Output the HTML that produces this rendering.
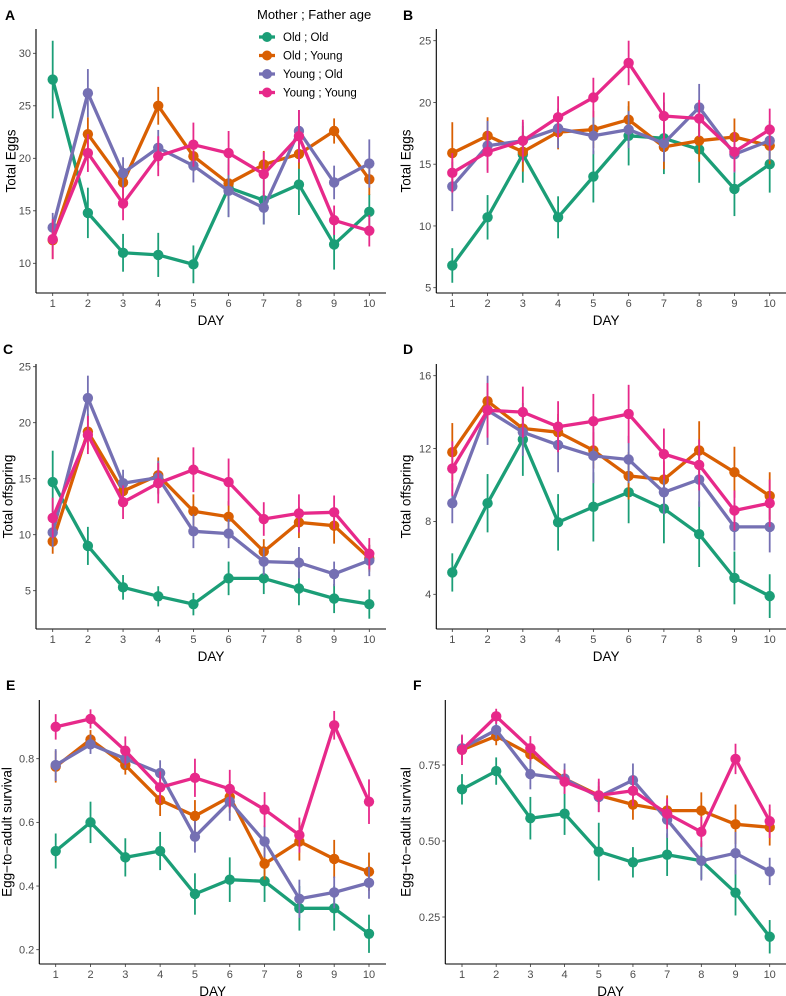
<!DOCTYPE html>
<html><head><meta charset="utf-8"><style>
html,body{margin:0;padding:0;background:#fff;}
svg{display:block;font-family:"Liberation Sans",Arial,sans-serif;}
</style></head><body>
<svg id="fig" width="786" height="996" viewBox="0 0 786 996" xmlns="http://www.w3.org/2000/svg"></svg>
<script>
const days = [1,2,3,4,5,6,7,8,9,10];
const groups = ["Old ; Old","Old ; Young","Young ; Old","Young ; Young"];
const colors = ["#1b9e77","#d95f02","#7570b3","#e7298a"];

const aMean = [[27.5,14.8,11.0,10.8,9.9,17.2,16.0,17.5,11.8,14.9],[12.2,22.3,17.7,25.0,20.2,17.6,19.4,20.4,22.6,18.0],[13.4,26.2,18.6,21.0,19.3,16.9,15.3,22.6,17.7,19.5],[12.3,20.5,15.7,20.2,21.3,20.5,18.5,22.1,14.1,13.1]];
const aErr = [[3.7,2.4,1.8,2.1,1.8,2.8,2.3,2.9,2.4,1.7],[1.8,1.6,1.5,1.8,1.5,1.5,1.3,1.4,1.2,1.5],[1.4,2.3,1.5,1.7,1.6,2.5,1.6,2.0,1.6,2.3],[1.9,1.8,1.6,1.9,2.1,2.1,2.1,2.5,1.4,1.5]];
const bMean = [[6.8,10.7,15.8,10.7,14.0,17.3,17.1,16.2,13.0,15.0],[15.9,17.3,16.0,17.6,17.8,18.6,16.4,16.9,17.2,16.5],[13.2,16.5,16.9,17.9,17.3,17.8,16.7,19.6,15.8,16.9],[14.3,16.0,16.9,18.8,20.4,23.2,18.9,18.7,16.0,17.8]];
const bErr = [[1.4,1.8,2.3,1.7,2.1,2.4,2.9,2.7,2.2,2.3],[2.5,1.5,1.6,1.4,1.5,1.5,1.8,1.7,1.5,1.5],[2.0,2.0,1.5,1.6,1.5,1.5,1.5,1.9,1.5,1.6],[1.6,1.7,1.7,1.7,1.6,1.8,1.9,1.5,1.6,1.7]];
const cMean = [[14.7,9.0,5.3,4.5,3.8,6.1,6.1,5.2,4.3,3.8],[9.4,19.2,13.9,15.3,12.1,11.6,8.5,11.1,10.8,7.9],[10.2,22.2,14.6,15.1,10.3,10.1,7.6,7.5,6.5,7.7],[11.5,18.9,12.9,14.6,15.8,14.7,11.4,11.9,12.0,8.3]];
const cErr = [[2.8,1.7,1.1,0.9,1.0,1.5,1.4,1.5,1.3,1.3],[1.1,1.6,1.3,1.6,1.5,1.4,1.1,1.4,1.6,1.2],[1.3,2.0,1.2,1.5,1.5,1.3,1.2,1.4,1.1,1.4],[1.8,1.7,1.5,1.8,2.0,2.1,1.5,1.7,1.5,1.4]];
const dMean = [[5.2,9.0,12.5,7.95,8.8,9.6,8.7,7.3,4.9,3.9],[11.8,14.6,13.1,12.9,11.9,10.5,10.3,11.9,10.7,9.4],[9.0,14.1,12.9,12.2,11.6,11.4,9.6,10.3,7.7,7.7],[10.9,14.1,14.0,13.2,13.5,13.9,11.7,11.1,8.6,9.0]];
const dErr = [[1.05,1.6,2.0,1.55,1.9,1.7,1.9,1.8,1.45,1.2],[1.6,1.0,1.0,1.0,1.0,1.3,1.0,1.6,1.4,1.3],[1.1,1.9,1.3,1.5,1.5,1.3,1.2,1.5,1.3,1.4],[1.5,1.5,1.4,1.4,1.5,1.6,1.4,1.4,1.1,1.3]];
const eMean = [[0.51,0.60,0.49,0.51,0.375,0.42,0.415,0.33,0.33,0.25],[0.775,0.86,0.78,0.67,0.62,0.68,0.47,0.54,0.485,0.445],[0.78,0.845,0.80,0.755,0.555,0.665,0.54,0.36,0.38,0.41],[0.90,0.925,0.825,0.71,0.74,0.705,0.64,0.56,0.905,0.665]];
const eErr = [[0.055,0.065,0.06,0.06,0.065,0.07,0.065,0.07,0.07,0.06],[0.05,0.03,0.03,0.05,0.05,0.05,0.05,0.06,0.06,0.06],[0.05,0.03,0.03,0.04,0.05,0.06,0.05,0.06,0.05,0.05],[0.04,0.03,0.045,0.05,0.06,0.06,0.055,0.055,0.045,0.07]];
const fMean = [[0.67,0.73,0.575,0.59,0.465,0.43,0.455,0.435,0.33,0.185],[0.80,0.845,0.785,0.705,0.65,0.62,0.60,0.60,0.555,0.545],[0.805,0.865,0.72,0.705,0.645,0.70,0.57,0.435,0.46,0.40],[0.80,0.91,0.805,0.695,0.65,0.665,0.59,0.53,0.77,0.565]];
const fErr = [[0.05,0.045,0.07,0.07,0.095,0.05,0.07,0.06,0.075,0.055],[0.03,0.03,0.03,0.03,0.03,0.05,0.05,0.06,0.065,0.06],[0.04,0.03,0.05,0.05,0.05,0.055,0.06,0.065,0.07,0.045],[0.05,0.025,0.04,0.04,0.055,0.05,0.05,0.05,0.05,0.055]];

const aTicks = ["10","15","20","25","30"];
const bTicks = ["5","10","15","20","25"];
const cTicks = ["5","10","15","20","25"];
const dTicks = ["4","8","12","16"];
const eTicks = ["0.2","0.4","0.6","0.8"];
const fTicks = ["0.25","0.50","0.75"];

const NS = "http://www.w3.org/2000/svg";
const svg = document.getElementById("fig");
function mk(tag, attrs, parent){
  const el = document.createElementNS(NS, tag);
  for (const k in attrs) el.setAttribute(k, attrs[k]);
  (parent||svg).appendChild(el);
  return el;
}

const panels = [
  {id:"a",letter:"A",lx:5,ly:20,ax:36,top:29,bot:293,right:386,x1:52.7,x10:369.3,v0:10,p0:263.3,v1:30,p1:53.3,mean:aMean,err:aErr,ticks:aTicks,title:"Total Eggs",tx:11},
  {id:"b",letter:"B",lx:403,ly:20,ax:436.3,top:29,bot:293,right:786,x1:452.3,x10:769.7,v0:5,p0:287.7,v1:25,p1:40.7,mean:bMean,err:bErr,ticks:bTicks,title:"Total Eggs",tx:406},
  {id:"c",letter:"C",lx:3,ly:354,ax:36,top:364,bot:629,right:386,x1:52.7,x10:369.3,v0:5,p0:590.7,v1:25,p1:366.7,mean:cMean,err:cErr,ticks:cTicks,title:"Total offspring",tx:8},
  {id:"d",letter:"D",lx:403,ly:354,ax:436.3,top:364,bot:629,right:786,x1:452.3,x10:769.7,v0:4,p0:594.3,v1:16,p1:375.7,mean:dMean,err:dErr,ticks:dTicks,title:"Total offspring",tx:406},
  {id:"e",letter:"E",lx:6,ly:690,ax:39.3,top:700,bot:964,right:386,x1:55.7,x10:369,v0:0.2,p0:949.7,v1:0.8,p1:758.7,mean:eMean,err:eErr,ticks:eTicks,title:"Egg\u2212to\u2212adult survival",tx:7},
  {id:"f",letter:"F",lx:413,ly:690,ax:445.3,top:700,bot:964,right:786,x1:462,x10:769.7,v0:0.25,p0:917,v1:0.75,p1:765,mean:fMean,err:fErr,ticks:fTicks,title:"Egg\u2212to\u2212adult survival",tx:406}
];

panels.forEach(P => {
  const g = mk("g", {});
  
  
  const xs = d => P.x1 + (d-1)*(P.x10-P.x1)/9;
  const ys = v => P.p0 + (v-P.v0)*(P.p1-P.p0)/(P.v1-P.v0);
  const lt = mk("text", {x:P.lx, y:P.ly, "font-size":14, "font-weight":"bold", fill:"#000"}, g);
  lt.textContent = P.letter;
  
  
  const yaxis = mk("line", {x1:P.ax, y1:P.top, x2:P.ax, y2:P.bot, stroke:"#000", "stroke-width":1.1}, g);
  
  
  const xaxis = mk("line", {x1:P.ax, y1:P.bot, x2:P.right, y2:P.bot, stroke:"#000", "stroke-width":1.1}, g);
  
  
  P.ticks.forEach(t => {
    const y = ys(parseFloat(t));
    mk("line", {x1:P.ax-3, y1:y, x2:P.ax, y2:y, stroke:"#333", "stroke-width":0.8}, g);
    const tx = mk("text", {x:P.ax-5, y:y+3.8, "font-size":11, fill:"#4d4d4d", "text-anchor":"end"}, g);
    tx.textContent = t;
    
    
  });
  days.forEach(d => {
    const x = xs(d);
    mk("line", {x1:x, y1:P.bot, x2:x, y2:P.bot+3, stroke:"#333", "stroke-width":0.8}, g);
    const tx = mk("text", {x:x, y:P.bot+14, "font-size":11, fill:"#4d4d4d", "text-anchor":"middle"}, g);
    tx.textContent = d;
    
    
  });
  const xt = mk("text", {x:(P.ax+P.right)/2 + (P.right>700?-5:0), y:P.bot+32, "font-size":13.5, fill:"#000", "text-anchor":"middle"}, g);
  xt.textContent = "DAY";
  
  
  const cy = (P.top+P.bot)/2;
  const yt = mk("text", {x:P.tx, y:cy, "font-size":13.5, fill:"#000", "text-anchor":"middle", transform:`rotate(-90 ${P.tx} ${cy})`, dy:"0.35em"}, g);
  yt.textContent = P.title;
  
  
  P.mean.forEach((ser, si) => {
    const sg = mk("g", {}, g);
    
    
    const pts = ser.map((v,i) => xs(days[i]).toFixed(1)+","+ys(v).toFixed(1)).join(" ");
    const ln = mk("polyline", {points:pts, fill:"none", stroke:colors[si], "stroke-width":3.3, "stroke-linejoin":"round"}, sg);
    
    
    ser.forEach((v,i) => {
      const e = P.err[si][i];
      const eb = mk("line", {x1:xs(days[i]), y1:ys(v-e), x2:xs(days[i]), y2:ys(v+e), stroke:colors[si], "stroke-width":1.8}, sg);
      
      
      const c = mk("circle", {cx:xs(days[i]), cy:ys(v), r:5.2, fill:colors[si]}, sg);
      
      
    });
  });
});

const lg = mk("g", {});


const lt = mk("text", {x:257, y:19, "font-size":13, fill:"#000"}, lg);
lt.textContent = "Mother ; Father age";


groups.forEach((gname, i) => {
  const y = 37 + i*18.5;
  const eg = mk("g", {}, lg);
  
  
  mk("line", {x1:259, y1:y, x2:275, y2:y, stroke:colors[i], "stroke-width":3.3}, eg);
  mk("circle", {cx:267, cy:y, r:5, fill:colors[i]}, eg);
  const t = mk("text", {x:283, y:y+4, "font-size":11.5, fill:"#000"}, eg);
  t.textContent = gname;
});
</script>
</body></html>
